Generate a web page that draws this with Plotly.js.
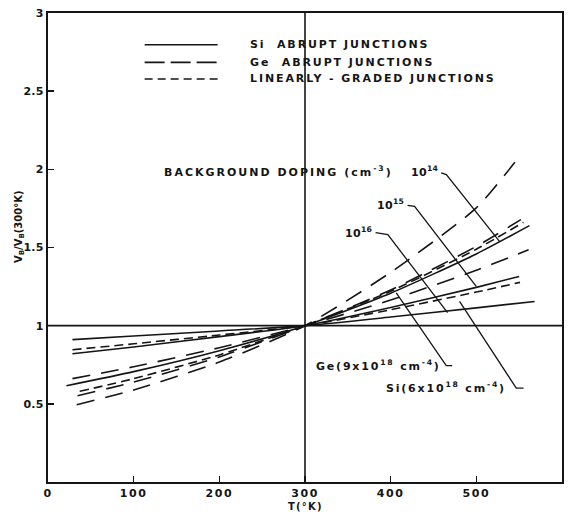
<!DOCTYPE html>
<html><head><meta charset="utf-8">
<script src="https://cdn.plot.ly/plotly-3.0.1.min.js"></script>
<style>html,body{margin:0;padding:0;background:#fff}#chart{width:573px;height:512px}</style>
</head><body><div id="chart"></div>
<script>
// Temperatures (deg K) and normalized breakdown voltage V_B / V_B(300 K)
const tSi16 = [28.5, 100, 200, 300, 400, 500, 568];
const vSi16 = [0.911, 0.934, 0.966, 1, 1.055, 1.114, 1.155];
const tSi15 = [28.5, 100, 200, 300, 400, 500, 550];
const vSi15 = [0.82, 0.864, 0.930, 1, 1.116, 1.245, 1.315];
const tSi14 = [21.5, 100, 200, 300, 400, 500, 562];
const vSi14 = [0.616, 0.706, 0.840, 1, 1.208, 1.459, 1.64];
const tGe16 = [28.5, 100, 200, 300, 400, 500, 561];
const vGe16 = [0.661, 0.737, 0.859, 1, 1.164, 1.354, 1.486];
const tGe15 = [34.5, 100, 200, 300, 400, 500, 552];
const vGe15 = [0.552, 0.639, 0.800, 1, 1.228, 1.507, 1.678];
const tGe14 = [33.5, 100, 200, 300, 400, 500, 545];
const vGe14 = [0.494, 0.589, 0.767, 1, 1.341, 1.753, 2.045];
const tGeLG = [37, 100, 200, 300, 400, 500, 555];
const vGeLG = [0.58, 0.661, 0.813, 1, 1.22, 1.489, 1.661];
const tSiLG = [28.5, 100, 200, 300, 400, 500, 551];
const vSiLG = [0.846, 0.884, 0.940, 1, 1.102, 1.215, 1.277];

const xTicks = [0, 100, 200, 300, 400, 500, 600];
const yTicks = [0.5, 1, 1.5, 2, 2.5, 3];
const xTickText = ['0', '100', '200', '300', '400', '500', '600'];
const yTickText = ['0.5', '1', '1.5', '2', '2.5', '3'];

const legendNames = ['Si\u00a0\u00a0ABRUPT JUNCTIONS', 'Ge\u00a0\u00a0ABRUPT JUNCTIONS', 'LINEARLY\u00a0-\u00a0GRADED JUNCTIONS'];

const INK = '#151515';
const FONT = 'DejaVu Sans';
const DASH_GE = '18px,11px';
const DASH_LG = '9px,5px';
const sp = (s, size, ls) => '<span style="font-size:' + size + 'px;letter-spacing:' + ls + 'px">' + s + '</span>';

function tr(x, y, dash, name) {
  return {x: x, y: y, type: 'scatter', mode: 'lines', name: name, showlegend: false,
    line: {color: INK, width: 1.6, dash: dash, shape: 'spline', smoothing: 0.6}, hoverinfo: 'x+y+name'};
}
const data = [
  tr(tSi16, vSi16, 'solid', 'Si 1e16'),
  tr(tSi15, vSi15, 'solid', 'Si 1e15'),
  tr(tSi14, vSi14, 'solid', 'Si 1e14'),
  tr(tGe16, vGe16, DASH_GE, 'Ge 1e16'),
  tr(tGe15, vGe15, DASH_GE, 'Ge 1e15'),
  tr(tGe14, vGe14, DASH_GE, 'Ge 1e14'),
  tr(tGeLG, vGeLG, DASH_LG, 'Ge 9e18 cm-4'),
  tr(tSiLG, vSiLG, DASH_LG, 'Si 6e18 cm-4')
];

const lineStyle = {color: INK, width: 1.3};
const shapes = [
  // crosshair at T = 300 K and V = 1
  {type: 'line', xref: 'x', yref: 'paper', x0: 300, x1: 300, y0: 0, y1: 1, line: {color: INK, width: 1.6}},
  {type: 'line', xref: 'paper', yref: 'y', x0: 0, x1: 1, y0: 1, y1: 1, line: {color: INK, width: 1.6}},
  // legend samples
  {type: 'line', xref: 'paper', yref: 'paper', x0: 0.188, x1: 0.330, y0: 0.9324, y1: 0.9324, line: {color: INK, width: 1.6}},
  {type: 'line', xref: 'paper', yref: 'paper', x0: 0.188, x1: 0.330, y0: 0.8947, y1: 0.8947, line: {color: INK, width: 1.6, dash: '20px,6px'}},
  {type: 'line', xref: 'paper', yref: 'paper', x0: 0.188, x1: 0.330, y0: 0.8593, y1: 0.8593, line: {color: INK, width: 1.6, dash: '8px,5px'}},
  // leader lines
  {type: 'path', xref: 'x', yref: 'y', path: 'M459,1.977 L465,1.966 L527,1.539', line: lineStyle},
  {type: 'path', xref: 'x', yref: 'y', path: 'M419.7,1.770 L427.9,1.763 L499.9,1.251', line: lineStyle},
  {type: 'path', xref: 'x', yref: 'y', path: 'M382.4,1.595 L396.7,1.582 L466.4,1.083', line: lineStyle},
  {type: 'path', xref: 'x', yref: 'y', path: 'M406.5,1.209 L464.9,0.744 L471.9,0.744', line: lineStyle},
  {type: 'path', xref: 'x', yref: 'y', path: 'M480.4,1.155 L546.6,0.601 L555.1,0.601', line: lineStyle}
];

const tf = {family: FONT, size: 11, color: INK, weight: 'bold'};
function lab(x, y, text, xref, yref, xanchor) {
  return {x: x, y: y, xref: xref || 'x', yref: yref || 'y', text: text, showarrow: false,
    xanchor: xanchor || 'right', yanchor: 'middle', font: tf};
}
const annotations = [
  lab(0.3885, 0.9324, sp(legendNames[0], 11, 1.9), 'paper', 'paper', 'left'),
  lab(0.3885, 0.8947, sp(legendNames[1], 11, 1.9), 'paper', 'paper', 'left'),
  lab(0.3885, 0.8593, sp(legendNames[2], 11, 1.9), 'paper', 'paper', 'left'),
  lab(404.6, 1.985, sp('BACKGROUND DOPING (cm<sup>-3</sup>)', 11, 2)),
  lab(457, 1.985, sp('10<sup>14</sup>', 11, 0.3)),
  lab(417.4, 1.774, sp('10<sup>15</sup>', 11, 0.3)),
  lab(381, 1.595, sp('10<sup>16</sup>', 11, 0.3)),
  lab(460.6, 0.744, sp('Ge(9x10<sup>18</sup> cm<sup>-4</sup>)', 11, 1.8)),
  lab(536.4, 0.603, sp('Si(6x10<sup>18</sup> cm<sup>-4</sup>)', 11, 1.8)),
  {x: -0.054, y: 0.544, xref: 'paper', yref: 'paper', text: 'V<sub>B</sub>/V<sub>B</sub>(300°K)', textangle: -90,
   showarrow: false, xanchor: 'center', yanchor: 'middle', font: {family: FONT, size: 10, color: INK, weight: 'bold'}},
  {x: 0.5, y: -0.0355, xref: 'paper', yref: 'paper', text: sp('T(°K)', 10, 1.2), showarrow: false,
   xanchor: 'center', yanchor: 'top', yshift: 0, font: {family: FONT, size: 10, color: INK, weight: 'bold'}}
];

const axisCommon = {showline: true, mirror: true, linecolor: INK, linewidth: 2, showgrid: false, zeroline: false,
  ticks: 'inside', ticklen: 6, tickwidth: 1.5, tickcolor: INK};

const layout = {
  width: 573, height: 512,
  margin: {l: 48, r: 11, t: 13, b: 30},
  paper_bgcolor: '#fff', plot_bgcolor: '#fff',
  showlegend: false,
  xaxis: Object.assign({}, axisCommon, {range: [0, 600], tickmode: 'array', tickvals: xTicks,
    ticktext: xTickText.map(s => sp(s, 11, 1.6)), ticklabelstandoff: 0,
    tickfont: {family: FONT, size: 11, color: INK, weight: 'bold'}}),
  yaxis: Object.assign({}, axisCommon, {range: [0, 3], tickmode: 'array', tickvals: yTicks,
    ticktext: yTickText.map(s => sp(s, 11, 0.3)), tickfont: {family: FONT, size: 11, color: INK, weight: 'bold'}}),
  shapes: shapes,
  annotations: annotations
};

Plotly.newPlot('chart', data, layout, {displayModeBar: false, staticPlot: true});
</script>
</body></html>
